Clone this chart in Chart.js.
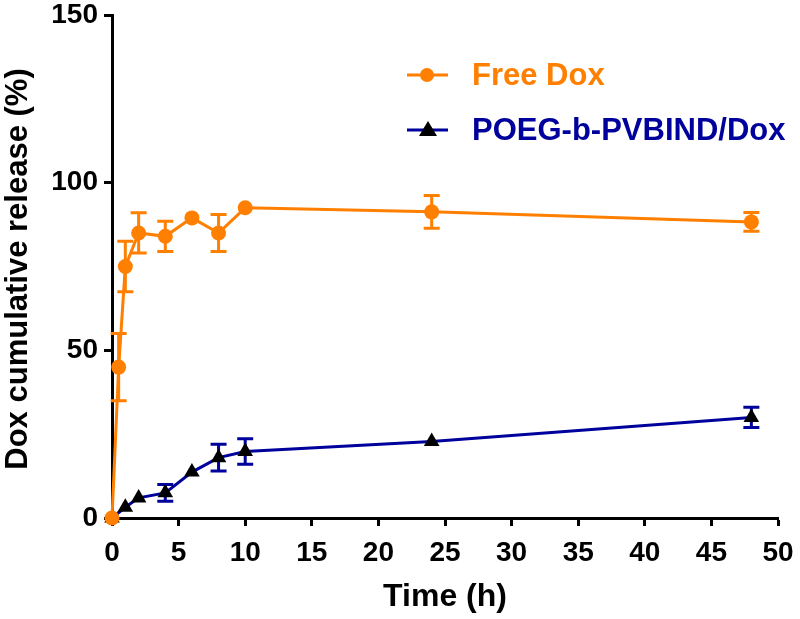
<!DOCTYPE html>
<html>
<head>
<meta charset="utf-8">
<script src="https://cdn.jsdelivr.net/npm/chart.js@4/dist/chart.umd.min.js"></script>
<style>
html,body{margin:0;padding:0;background:#fff;}
#wrap{width:800px;height:619px;position:relative;}
</style>
</head>
<body>
<div id="wrap"><canvas id="c"></canvas></div>
<script>
const timesFree = [0, 0.5, 1, 2, 4, 6, 8, 10, 24, 48];
const freeDox = [0, 45, 75, 85, 84, 89.5, 85, 92.5, 91.3, 88.3];
const freeDoxErr = [0, 10, 7.5, 6, 4.5, 0, 5.5, 0, 4.9, 2.8];
const timesPoeg = [0, 1, 2, 4, 6, 8, 10, 24, 48];
const poeg = [0, 3.2, 6, 7.5, 13.7, 18, 19.8, 22.8, 30];
const poegErr = [0, 0, 0, 2.5, 0, 4, 3.8, 0, 3];
const xTicks = [0, 5, 10, 15, 20, 25, 30, 35, 40, 45, 50];
const yTicks = [0, 50, 100, 150];
const seriesNames = ['Free Dox', 'POEG-b-PVBIND/Dox'];
const xTitle = 'Time (h)';
const yTitle = 'Dox cumulative release (%)';

const ORANGE = '#FF7F00';
const BLUE = '#00009C';
const FONT = "'Liberation Sans', Arial, sans-serif";

const errBars = {
  id: 'errBars',
  beforeDatasetsDraw(chart) {
    const ctx = chart.ctx;
    const xs = chart.scales.x, ys = chart.scales.y;
    const sets = [
      {t: timesPoeg, v: poeg, e: poegErr, c: BLUE},
      {t: timesFree, v: freeDox, e: freeDoxErr, c: ORANGE}
    ];
    ctx.save();
    ctx.lineWidth = 3;
    sets.forEach(s => {
      ctx.strokeStyle = s.c;
      s.t.forEach((t, i) => {
        if (!s.e[i]) return;
        const x = xs.getPixelForValue(t);
        const y1 = ys.getPixelForValue(s.v[i] + s.e[i]);
        const y2 = ys.getPixelForValue(s.v[i] - s.e[i]);
        ctx.beginPath();
        ctx.moveTo(x, y1); ctx.lineTo(x, y2);
        ctx.moveTo(x - 8, y1); ctx.lineTo(x + 8, y1);
        ctx.moveTo(x - 8, y2); ctx.lineTo(x + 8, y2);
        ctx.stroke();
      });
    });
    ctx.restore();
  }
};

const legendAndTitle = {
  id: 'legendAndTitle',
  afterDraw(chart) {
    const ctx = chart.ctx;
    ctx.save();
    ctx.font = "bold 31px " + FONT;
    ctx.fillStyle = '#000';
    ctx.textAlign = 'center';
    ctx.textBaseline = 'middle';
    ctx.translate(18, 269);
    ctx.rotate(-Math.PI / 2);
    ctx.fillText(yTitle, 0, 0);
    ctx.restore();

    ctx.save();
    const rows = [
      {y: 75, c: ORANGE, name: seriesNames[0], m: 'circle'},
      {y: 130, c: BLUE, name: seriesNames[1], m: 'tri'}
    ];
    rows.forEach(r => {
      ctx.strokeStyle = r.c;
      ctx.lineWidth = 3;
      ctx.beginPath();
      ctx.moveTo(407, r.y); ctx.lineTo(448, r.y);
      ctx.stroke();
      if (r.m === 'circle') {
        ctx.fillStyle = ORANGE;
        ctx.beginPath();
        ctx.arc(427, r.y, 7, 0, Math.PI * 2);
        ctx.fill();
      } else {
        ctx.fillStyle = '#000';
        ctx.beginPath();
        ctx.moveTo(428, r.y - 9);
        ctx.lineTo(437, r.y + 6);
        ctx.lineTo(419, r.y + 6);
        ctx.closePath();
        ctx.fill();
      }
      ctx.font = "bold 31px " + FONT;
      ctx.fillStyle = r.c;
      ctx.textAlign = 'left';
      ctx.textBaseline = 'middle';
      ctx.fillText(r.name, 472, r.y + 1);
    });
    ctx.restore();
  }
};

new Chart(document.getElementById('c'), {
  type: 'line',
  data: {
    datasets: [
      {
        label: seriesNames[0],
        data: timesFree.map((t, i) => ({x: t, y: freeDox[i]})),
        borderColor: ORANGE,
        backgroundColor: ORANGE,
        borderWidth: 3,
        pointStyle: 'circle',
        pointRadius: 7.5,
        pointBorderWidth: 0,
        pointBackgroundColor: ORANGE,
        tension: 0,
        clip: false
      },
      {
        label: seriesNames[1],
        data: timesPoeg.map((t, i) => ({x: t, y: poeg[i]})),
        borderColor: BLUE,
        backgroundColor: '#000',
        borderWidth: 3,
        pointStyle: 'triangle',
        pointRadius: 9,
        pointBorderWidth: 0,
        pointBackgroundColor: '#000',
        tension: 0,
        clip: false
      }
    ]
  },
  options: {
    responsive: true,
    maintainAspectRatio: false,
    animation: false,
    layout: {padding: {top: 15, right: 22, left: 0, bottom: 0}},
    plugins: {legend: {display: false}, tooltip: {enabled: false}},
    scales: {
      x: {
        type: 'linear',
        min: 0, max: 50,
        afterFit(s) { s.height = 101; s.paddingLeft = 0; s.paddingRight = 0; },
        afterBuildTicks(s) { s.ticks = xTicks.map(v => ({value: v})); },
        grid: {display: true, drawOnChartArea: false, drawTicks: true, tickLength: 8, tickWidth: 3, tickColor: '#000'},
        border: {display: true, width: 3, color: '#000'},
        ticks: {color: '#000', padding: 10, maxRotation: 0, font: {family: FONT, size: 28, weight: 'bold'}},
        title: {display: true, text: xTitle, color: '#000', padding: {top: 0, bottom: 3}, font: {family: FONT, size: 32, weight: 'bold'}}
      },
      y: {
        type: 'linear',
        min: 0, max: 150,
        afterFit(s) { s.width = 112; s.paddingTop = 0; s.paddingBottom = 0; },
        afterBuildTicks(s) { s.ticks = yTicks.map(v => ({value: v})); },
        grid: {display: true, drawOnChartArea: false, drawTicks: true, tickLength: 8, tickWidth: 3, tickColor: '#000'},
        border: {display: true, width: 3, color: '#000'},
        ticks: {color: '#000', padding: 6, font: {family: FONT, size: 28, weight: 'bold'}}
      }
    }
  },
  plugins: [errBars, legendAndTitle]
});
</script>
</body>
</html>
